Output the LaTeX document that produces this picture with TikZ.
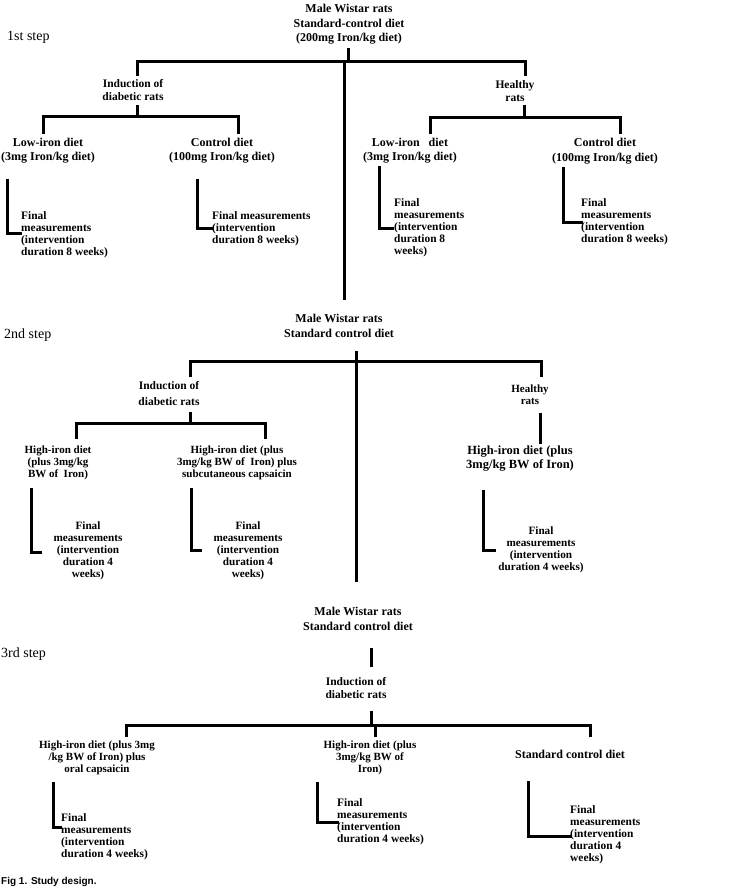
\documentclass[tikz,border=0pt]{standalone}
\usepackage{fontspec}
\setmainfont{Liberation Serif}
\newfontfamily\capfont{Liberation Sans}
\begin{document}
\begin{tikzpicture}[x=1pt,y=-1pt,
  ln/.style={line width=3pt, line cap=rect},
  lbl/.style={font=\bfseries\fontsize{12}{14.5}\selectfont, align=center, inner sep=0pt},
  lbs/.style={font=\bfseries\fontsize{11}{12}\selectfont, align=center, inner sep=0pt},
  fin/.style={font=\bfseries\fontsize{11.4}{12}\selectfont, align=left, inner sep=0pt, anchor=west},
  finc/.style={font=\bfseries\fontsize{11.2}{12}\selectfont, align=center, inner sep=0pt},
  stepl/.style={font=\fontsize{14}{14}\selectfont, inner sep=0pt, anchor=west}]
\useasboundingbox[fill=white] (0,0) rectangle (744,888);

% ---------- 1st step ----------
\node[stepl] (s1) at (7,37) {1st step};
\node[lbl] (t1) at (349,24.5) {Male Wistar rats\\Standard-control diet\\(200mg Iron/kg diet)};
\coordinate (a1) at (348,50); \coordinate (a2) at (348,62);
\coordinate (hL1) at (137,62); \coordinate (hR1) at (525,62);
\coordinate (dL1) at (137,75); \coordinate (dR1) at (525,75);
\coordinate (m1a) at (344,62); \coordinate (m1b) at (344,298);
\draw[ln] (a1) -- (a2);
\draw[ln] (hL1) -- (hR1);
\draw[ln] (hL1) -- (dL1);
\draw[ln] (hR1) -- (dR1);
\draw[ln] (m1a) -- (m1b);

\node[lbl, font=\bfseries\fontsize{11.5}{13}\selectfont] (ind1) at (133,90.5) {Induction of\\diabetic rats};
\coordinate (b1) at (137,107); \coordinate (b2) at (137,117);
\coordinate (bL) at (43,117); \coordinate (bR) at (238,117);
\coordinate (bLd) at (43,132); \coordinate (bRd) at (238,132);
\draw[ln] (b1) -- (b2); \draw[ln] (bL) -- (bR);
\draw[ln] (bL) -- (bLd); \draw[ln] (bR) -- (bRd);

\node[lbl] (low1) at (48,150.5) {Low-iron diet\\(3mg Iron/kg diet)};
\node[lbl] (ctl1) at (222,150.5) {Control diet\\(100mg Iron/kg diet)};

\coordinate (f1a) at (7,180); \coordinate (f1b) at (7,233); \coordinate (f1c) at (20,233);
\draw[ln] (f1a) -- (f1b) -- (f1c);
\node[fin] (fm1) at (21,234.5) {Final\\measurements\\(intervention\\duration 8 weeks)};
\coordinate (f2a) at (197,180); \coordinate (f2b) at (197,228); \coordinate (f2c) at (212,228);
\draw[ln] (f2a) -- (f2b) -- (f2c);
\node[fin] (fm2) at (212,229) {Final measurements\\(intervention\\duration 8 weeks)};

\node[lbl, font=\bfseries\fontsize{11.5}{13}\selectfont] (hl1) at (515,91) {Healthy\\rats};
\coordinate (c1) at (524,107); \coordinate (c2) at (524,118);
\coordinate (cL) at (430,118); \coordinate (cR) at (620,118);
\coordinate (cLd) at (430,132); \coordinate (cRd) at (620,132);
\draw[ln] (c1) -- (c2); \draw[ln] (cL) -- (cR);
\draw[ln] (cL) -- (cLd); \draw[ln] (cR) -- (cRd);

\node[lbl] (low2) at (410,150.5) {Low-iron\ \ \ diet\\(3mg Iron/kg diet)};
\node[lbl] (ctl2) at (605,151) {Control diet\\(100mg Iron/kg diet)};

\coordinate (f3a) at (379,167); \coordinate (f3b) at (379,228); \coordinate (f3c) at (392,228);
\draw[ln] (f3a) -- (f3b) -- (f3c);
\node[fin] (fm3) at (394,227.5) {Final\\measurements\\(intervention\\duration 8\\weeks)};
\coordinate (f4a) at (563,168); \coordinate (f4b) at (563,222); \coordinate (f4c) at (581,222);
\draw[ln] (f4a) -- (f4b) -- (f4c);
\node[fin] (fm4) at (581,221.5) {Final\\measurements\\(intervention\\duration 8 weeks)};

% ---------- 2nd step ----------
\node[stepl] (s2) at (4,335) {2nd step};
\node[lbl] (t2) at (339,326) {Male Wistar rats\\Standard control diet};
\coordinate (m2a) at (356,352); \coordinate (m2b) at (356,580);
\coordinate (hL2) at (190,361); \coordinate (hR2) at (541,361);
\coordinate (dL2) at (190,375); \coordinate (dR2) at (541,375);
\draw[ln] (hL2) -- (hR2);
\draw[ln] (hL2) -- (dL2);
\draw[ln] (hR2) -- (dR2);
\draw[ln] (m2a) -- (m2b);

\node[lbs, font=\bfseries\fontsize{11.5}{16}\selectfont] (ind2) at (169,394) {Induction of\\diabetic rats};
\coordinate (e1) at (190,413); \coordinate (e2) at (190,423);
\coordinate (eL) at (76,423); \coordinate (eR) at (265,423);
\coordinate (eLd) at (76,437); \coordinate (eRd) at (265,437);
\draw[ln] (e1) -- (e2); \draw[ln] (eL) -- (eR);
\draw[ln] (eL) -- (eLd); \draw[ln] (eR) -- (eRd);

\node[lbs] (hi1) at (58,463) {High-iron diet\\(plus 3mg/kg\\BW of\ \ Iron)};
\node[lbs] (hi2) at (237,463) {High-iron diet (plus\\3mg/kg BW of\ \ Iron) plus\\subcutaneous capsaicin};

\coordinate (g1a) at (31,489); \coordinate (g1b) at (31,552); \coordinate (g1c) at (40,552);
\draw[ln] (g1a) -- (g1b) -- (g1c);
\node[finc] (fm5) at (88,551) {Final\\measurements\\(intervention\\duration 4\\weeks)};
\coordinate (g2a) at (191,489); \coordinate (g2b) at (191,550); \coordinate (g2c) at (200,550);
\draw[ln] (g2a) -- (g2b) -- (g2c);
\node[finc] (fm6) at (248,551) {Final\\measurements\\(intervention\\duration 4\\weeks)};

\node[lbs, font=\bfseries\fontsize{11}{11.5}\selectfont] (hl2) at (530,394.5) {Healthy\\rats};
\coordinate (k1) at (540,414); \coordinate (k2) at (540,442);
\draw[ln] (k1) -- (k2);
\node[lbl, font=\bfseries\fontsize{12.5}{14}\selectfont] (hi3) at (520,459) {High-iron diet (plus\\3mg/kg BW of Iron)};
\coordinate (g3a) at (483,491); \coordinate (g3b) at (483,550); \coordinate (g3c) at (494,550);
\draw[ln] (g3a) -- (g3b) -- (g3c);
\node[finc] (fm7) at (541,550) {Final\\measurements\\(intervention\\duration 4 weeks)};

% ---------- 3rd step ----------
\node[stepl] (s3) at (1,654) {3rd step};
\node[lbl] (t3) at (358,619) {Male Wistar rats\\Standard control diet};
\coordinate (n1) at (371,649); \coordinate (n2) at (371,665);
\draw[ln] (n1) -- (n2);
\node[lbs, font=\bfseries\fontsize{11.5}{13}\selectfont] (ind3) at (356,687.5) {Induction of\\diabetic rats};
\coordinate (p1) at (371,712); \coordinate (p2) at (371,725);
\coordinate (pL) at (126,725); \coordinate (pR) at (590,725); \coordinate (pM) at (375,725);
\coordinate (pLd) at (126,735); \coordinate (pRd) at (590,735); \coordinate (pMd) at (375,735);
\draw[ln] (p1) -- (p2); \draw[ln] (pL) -- (pR);
\draw[ln] (pL) -- (pLd); \draw[ln] (pM) -- (pMd); \draw[ln] (pR) -- (pRd);

\node[lbs] (hi4) at (97,758) {High-iron diet (plus 3mg\\/kg BW of Iron) plus\\oral capsaicin};
\node[lbs] (hi5) at (370,758) {High-iron diet (plus\\3mg/kg BW of\\Iron)};
\node[lbl] (std3) at (570,754) {Standard control diet};

\coordinate (q1a) at (53,783); \coordinate (q1b) at (53,827); \coordinate (q1c) at (60,827);
\draw[ln] (q1a) -- (q1b) -- (q1c);
\node[fin] (fm8) at (61,837) {Final\\measurements\\(intervention\\duration 4 weeks)};
\coordinate (q2a) at (317,783); \coordinate (q2b) at (317,822); \coordinate (q2c) at (337,822);
\draw[ln] (q2a) -- (q2b) -- (q2c);
\node[fin] (fm9) at (337,822) {Final\\measurements\\(intervention\\duration 4 weeks)};
\coordinate (q3a) at (528,782); \coordinate (q3b) at (528,836); \coordinate (q3c) at (570,836);
\draw[ln] (q3a) -- (q3b) -- (q3c);
\node[fin] (fm10) at (570,835) {Final\\measurements\\(intervention\\duration 4\\weeks)};

\node[font=\capfont\bfseries\fontsize{10}{12}\selectfont, inner sep=0pt, anchor=west] (cap) at (1,882) {Fig 1. Study design.};
\end{tikzpicture}
\end{document}
